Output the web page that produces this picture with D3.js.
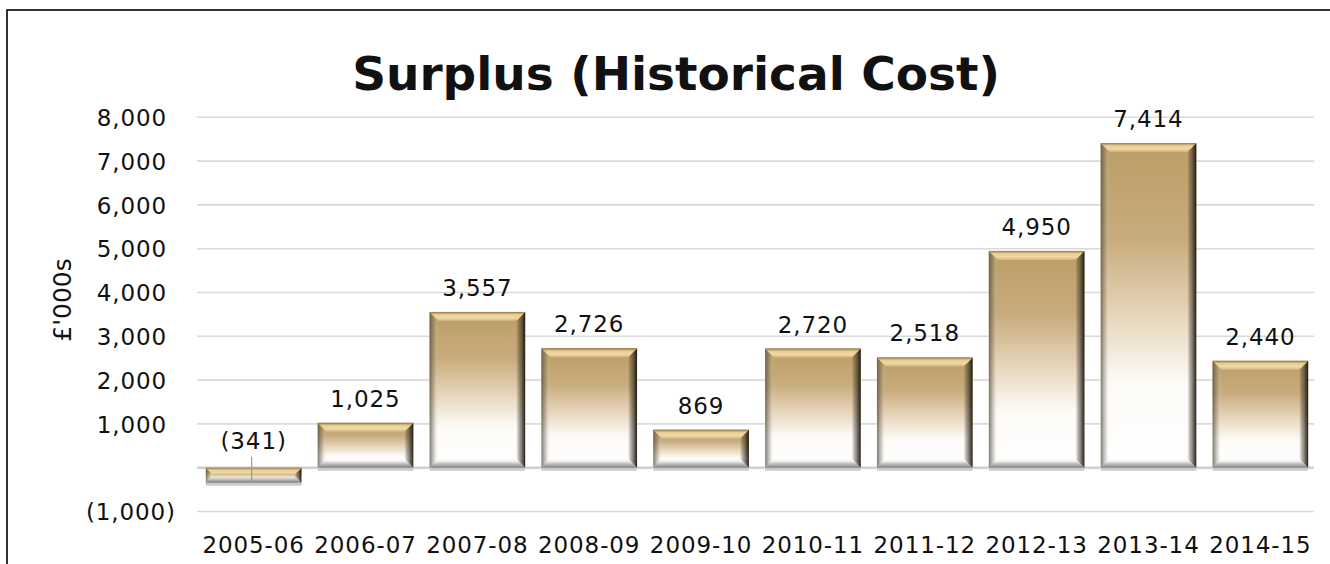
<!DOCTYPE html>
<html>
<head>
<meta charset="utf-8">
<script src="https://cdn.jsdelivr.net/npm/d3@7"></script>
<style>
  html, body { margin: 0; padding: 0; background: #fff; }
  svg { display: block; }
  text { font-family: "DejaVu Sans", Verdana, sans-serif; fill: #111; }
</style>
</head>
<body>
<div id="chart"></div>
<script>
// ---- Data -----------------------------------------------------------------
const years   = ['2005-06', '2006-07', '2007-08', '2008-09', '2009-10',
                 '2010-11', '2011-12', '2012-13', '2013-14', '2014-15'];
const surplus = [-341, 1025, 3557, 2726, 869, 2720, 2518, 4950, 7414, 2440];
const yTicks  = [-1000, 0, 1000, 2000, 3000, 4000, 5000, 6000, 7000, 8000];

const W = 1330, H = 564;
const BEVEL = 9;
const LABEL_SIZE = '23px', LABEL_SPACING = '0.9px';

const svg = d3.select('#chart').append('svg')
  .attr('width', W).attr('height', H);

// ---- Gradients ------------------------------------------------------------
const defs = svg.append('defs');

function grad(id, dir, stops) {
  const g = defs.append('linearGradient').attr('id', id)
    .attr('x1', 0).attr('y1', 0)
    .attr('x2', dir === 'h' ? 1 : 0).attr('y2', dir === 'h' ? 0 : 1);
  stops.forEach(([o, c, a]) => g.append('stop')
    .attr('offset', o).attr('stop-color', c).attr('stop-opacity', a == null ? 1 : a));
}

grad('barFill', 'v', [[0, '#bb9d66'], [0.3, '#c8ac7e'], [0.55, '#e9d9c0'],
                      [0.74, '#fdfbf8'], [1, '#ffffff']]);
grad('bevTop', 'v', [[0, '#8f7443'], [0.3, '#e8cd94'], [0.65, '#f0d9a5'], [1, '#d2b57f']]);
grad('bevLeft', 'h', [[0, '#4a4232', 0.7], [0.5, '#6a6050', 0.3], [1, '#ffffff', 0]]);
grad('bevRight', 'h', [[0, '#000000', 0], [0.45, '#3a3122', 0.5], [1, '#15110a', 0.95]]);
grad('bevBottom', 'v', [[0, '#ffffff', 0], [0.5, '#8a8a8a', 0.45], [1, '#555555', 0.8]]);

// ---- Scales ---------------------------------------------------------------
const x = d3.scaleBand().domain(years).range([198, 1316])
  .paddingInner(0.145).paddingOuter(0.07);
const y = d3.scaleLinear().domain([-1000, 8000]).range([511.5, 117.3]);

const fmt = v => v < 0 ? `(${d3.format(',')(-v)})` : d3.format(',')(v);

// ---- Frame ----------------------------------------------------------------
svg.append('rect')
  .attr('x', 7).attr('y', 10).attr('width', W + 20).attr('height', H + 20)
  .attr('fill', 'none').attr('stroke', '#000').attr('stroke-width', 1.6);

svg.append('text')
  .attr('x', 676).attr('y', 90)
  .attr('text-anchor', 'middle')
  .style('font-size', '47px').style('font-weight', 'bold')
  .text('Surplus (Historical Cost)');

// ---- Gridlines + y axis ---------------------------------------------------
const grid = svg.append('g');
grid.selectAll('line').data(yTicks).join('line')
  .attr('x1', 197).attr('x2', 1314)
  .attr('y1', d => y(d)).attr('y2', d => y(d))
  .attr('stroke', d => d === 0 ? '#cfcfcf' : '#dadada')
  .attr('stroke-width', d => d === 0 ? 2.5 : 1.6);

// accounting style: the closing bracket of negatives hangs past the digits
const yAxis = d3.axisLeft(y).tickValues(yTicks)
  .tickFormat(d => d === 0 ? '' : fmt(d)).tickSize(0).tickPadding(0);
svg.append('g').attr('transform', 'translate(167,0)').call(yAxis)
  .call(g => g.select('.domain').remove())
  .selectAll('text')
  .style('font-size', LABEL_SIZE).style('letter-spacing', LABEL_SPACING)
  .style('font-family', '"DejaVu Sans", Verdana, sans-serif')
  .attr('fill', '#111').attr('dy', '0.36em')
  .attr('x', d => d < 0 ? 9 : 0);

svg.append('text')
  .attr('transform', 'translate(71,300) rotate(-90)')
  .attr('text-anchor', 'middle')
  .style('font-size', '25px')
  .text("£'000s");

// ---- Bars -----------------------------------------------------------------
const data = years.map((yr, i) => ({ yr, v: surplus[i] }));

const bars = svg.append('g').selectAll('g.bar').data(data).join('g').attr('class', 'bar');

// faint shadow strip just under each bar
bars.append('rect')
  .attr('x', d => x(d.yr)).attr('width', x.bandwidth())
  .attr('y', d => Math.max(y(d.v), y(0))).attr('height', 3)
  .attr('fill', '#c9c9c9');

bars.each(function (d) {
  const g = d3.select(this);
  const x0 = x(d.yr), x1 = x0 + x.bandwidth();
  const y0 = Math.min(y(d.v), y(0)), y1 = Math.max(y(d.v), y(0));
  const b = Math.min(BEVEL, (y1 - y0) / 2);
  g.append('rect').attr('x', x0).attr('y', y0)
    .attr('width', x1 - x0).attr('height', y1 - y0).attr('fill', 'url(#barFill)');
  const poly = pts => pts.map(p => p.join(',')).join(' ');
  g.append('polygon').attr('fill', 'url(#bevLeft)')
    .attr('points', poly([[x0, y0], [x0 + b, y0 + b], [x0 + b, y1 - b], [x0, y1]]));
  g.append('polygon').attr('fill', 'url(#bevRight)')
    .attr('points', poly([[x1 - b, y0 + b], [x1, y0], [x1, y1], [x1 - b, y1 - b]]));
  g.append('polygon').attr('fill', 'url(#bevBottom)')
    .attr('points', poly([[x0 + b, y1 - b], [x1 - b, y1 - b], [x1, y1], [x0, y1]]));
  g.append('polygon').attr('fill', 'url(#bevTop)')
    .attr('points', poly([[x0, y0], [x1, y0], [x1 - b, y0 + b], [x0 + b, y0 + b]]));
});

// ---- Value labels ---------------------------------------------------------
const labels = svg.append('g')
  .style('font-size', LABEL_SIZE).style('letter-spacing', LABEL_SPACING);
data.forEach(d => {
  const cx = x(d.yr) + x.bandwidth() / 2;
  if (d.v >= 0) {
    labels.append('text').attr('x', cx).attr('y', y(d.v) - 16)
      .attr('text-anchor', 'middle').text(fmt(d.v));
  } else {
    // negative value: label sits above the axis with a leader line to the bar
    labels.append('text').attr('x', cx).attr('y', y(0) - 19)
      .attr('text-anchor', 'middle').text(fmt(d.v));
    labels.append('line')
      .attr('x1', cx - 2).attr('x2', cx - 2)
      .attr('y1', y(0) - 11).attr('y2', y(d.v) - 1)
      .attr('stroke', '#9a9a9a').attr('stroke-width', 1.2);
  }
});

// ---- X axis labels --------------------------------------------------------
svg.append('g')
  .style('font-size', LABEL_SIZE).style('letter-spacing', LABEL_SPACING)
  .selectAll('text').data(years).join('text')
  .attr('x', d => x(d) + x.bandwidth() / 2).attr('y', 553)
  .attr('text-anchor', 'middle')
  .text(d => d);
</script>
</body>
</html>
